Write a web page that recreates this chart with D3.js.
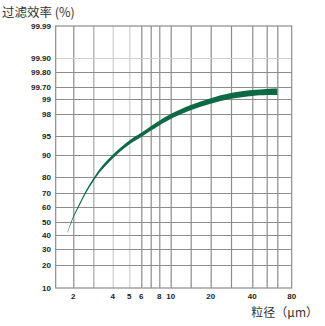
<!DOCTYPE html>
<html><head><meta charset="utf-8">
<script src="https://cdn.jsdelivr.net/npm/d3@7"></script>
<style>body{margin:0;background:#fff}svg{display:block}</style>
</head><body>
<svg id="c" width="325" height="326"></svg>
<script>
// ---- data ----
const particleSize = [1.82, 2, 2.29, 2.59, 3, 3.31, 4, 5, 6, 7, 8, 10, 15, 20, 30, 40, 50, 60];
const efficiency   = [41.9, 53.3, 62.5, 70.9, 78.1, 83.0, 89.3, 93.3, 95.14, 96.02, 96.77, 97.66, 98.43, 98.87, 99.18, 99.35, 99.41, 99.42];
const yTickValues = [10, 20, 30, 40, 50, 60, 70, 80, 90, 95, 98, 99, 99.7, 99.8, 99.9, 99.99];
const yTickLabels = ["10","20","30","40","50","60","70","80","90","95","98","99","99.70","99.80","99.90","99.99"];
const xGridValues = [1.5, 2, 3, 4, 5, 6, 7, 8, 10, 15, 20, 30, 40, 50, 60, 80];
const xTickLabels = [2, 4, 5, 6, 8, 10, 20, 40, 80];
const title = "过滤效率 (%)";
const xTitle = "粒径（μm）";

// ---- axis layout (non-uniform printed grid) ----
const xGridPos = [55.7, 73.3, 93.3, 112.7, 129.3, 141.3, 150.7, 159.3, 170.7, 190.7, 210.7, 231, 252.3, 266.7, 277.3, 291.7];
const yGridPos = [288, 265, 249, 235, 222, 207, 193, 177, 155, 136, 114, 99, 87, 72, 58, 26];

const svg = d3.select("#c");
const x = d3.scaleLog().domain(xGridValues).range(xGridPos);
const y = d3.scaleLinear().domain(yTickValues).range(yGridPos);
const L = x(1.5), R = x(80), T = y(99.99), B = y(10);

const lightX = new Set([4, 5]);
const midX = new Set([3]);
// vertical grid
svg.append("g").attr("transform", `translate(0,${B})`)
  .call(d3.axisBottom(x).tickValues(xGridValues.slice(1, -1)).tickSize(-(B - T)).tickFormat(""))
  .call(g => g.select(".domain").remove())
  .call(g => g.selectAll(".tick line")
    .attr("stroke", d => lightX.has(d) ? "#cfcfcf" : midX.has(d) ? "#a8a8a8" : "#8c8c8c")
    .attr("stroke-width", 1.2));
// horizontal grid
svg.append("g").attr("transform", `translate(${L},0)`)
  .call(d3.axisLeft(y).tickValues(yTickValues.slice(1, -1)).tickSize(-(R - L)).tickFormat(""))
  .call(g => g.select(".domain").remove())
  .call(g => g.selectAll(".tick line")
    .attr("stroke", d => d === 99.9 ? "#d0d0d0" : "#8c8c8c")
    .attr("stroke-width", 1.2));
// frame
svg.append("rect").attr("x", L).attr("y", T).attr("width", R - L).attr("height", B - T)
  .attr("fill", "none").attr("stroke", "#8c8c8c").attr("stroke-width", 1.2);

// y labels
svg.append("g").selectAll("text").data(yTickValues).join("text")
  .attr("x", 51).attr("y", d => y(d) + 3)
  .attr("text-anchor", "end")
  .attr("font-family", "Liberation Sans, Arial, sans-serif")
  .attr("font-size", 8).attr("font-weight", "bold").attr("fill", "#222")
  .text((d, i) => yTickLabels[i]);
// x labels
svg.append("g").selectAll("text").data(xTickLabels).join("text")
  .attr("x", d => x(d)).attr("y", 299)
  .attr("text-anchor", "middle")
  .attr("font-family", "Liberation Sans, Arial, sans-serif")
  .attr("font-size", 8).attr("font-weight", "bold").attr("fill", "#222")
  .text(d => d);

// titles
svg.append("text").attr("x", 2).attr("y", 17)
  .attr("font-family", "Noto Sans CJK SC, sans-serif").attr("font-size", 12.5).attr("fill", "#333")
  .text(title);
svg.append("text").attr("x", 318).attr("y", 317).attr("text-anchor", "end")
  .attr("font-family", "Noto Sans CJK SC, sans-serif").attr("font-size", 12).attr("fill", "#333")
  .text(xTitle);

// curve band (tapering stroke)
const n = particleSize.length;
const pts = particleSize.map((d, i) => ({px: x(d), py: y(efficiency[i]), h: 0.6 + 2.6 * Math.pow(i / (n - 1), 0.7)}));
const area = d3.area().curve(d3.curveCatmullRom.alpha(0.5))
  .x(p => p.px).y0(p => p.py + p.h).y1(p => p.py - p.h);
svg.append("path").datum(pts).attr("d", area).attr("fill", "#0d6a45");
</script>
</body></html>
